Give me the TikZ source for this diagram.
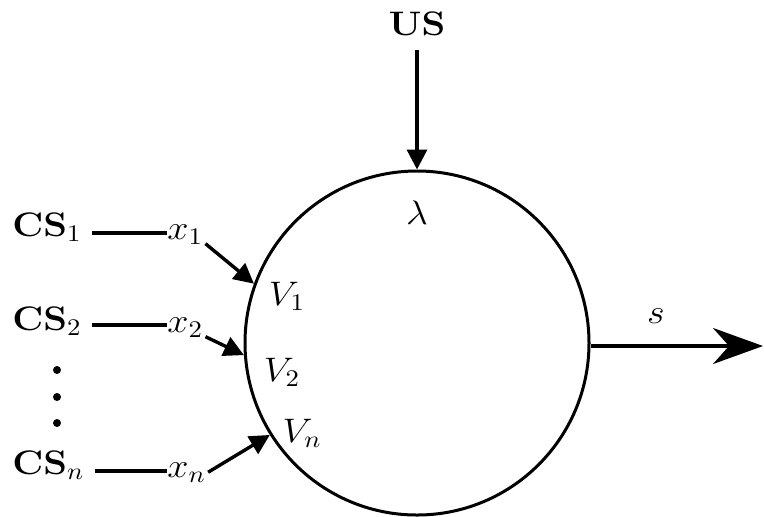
\RequirePackage{fix-cm}
\documentclass[tikz,border=0pt]{standalone}
\usetikzlibrary{arrows.meta}
\newcommand\wtxt[1]{\scalebox{1.12}[1]{#1}}
\begin{document}
\begin{tikzpicture}[x=0.5pt,y=-0.5pt,
  lbl/.style={inner sep=1pt,font=\fontsize{17}{20}\selectfont},
  wire/.style={line width=1.7pt},
  arr/.style={line width=1.7pt,-{Triangle[length=10pt,width=10pt]}},
  bigarr/.style={line width=1.7pt,-{Stealth[length=25pt,width=18pt,inset=8pt]}},
  dotnode/.style={circle,fill,inner sep=0pt,minimum size=4pt},
  cell/.style={circle,draw,line width=1.5pt,inner sep=0pt,minimum size=172pt}]
\useasboundingbox (0,0) rectangle (764,516);
\node[cell] (c) at (417,343) {};
% unconditioned stimulus
\node[lbl] (us) at (417,24) {\wtxt{$\mathbf{US}$}};
\draw[arr] ([yshift=-6pt]us.south) -- (c.north);
\node[lbl] (lam) at (417,213) {\wtxt{$\lambda$}};
% conditioned stimuli
\node[lbl,anchor=base west] (cs1) at (10,236) {\wtxt{$\mathbf{CS}_1$}};
\node[lbl,anchor=base west] (x1) at (165,239) {\wtxt{$x_1$}};
\node[lbl,anchor=base west] (cs2) at (10,330) {\wtxt{$\mathbf{CS}_2$}};
\node[lbl,anchor=base west] (x2) at (165,332) {\wtxt{$x_2$}};
\node[lbl,anchor=base west] (csn) at (10,474) {\wtxt{$\mathbf{CS}_n$}};
\node[lbl,anchor=base west] (xn) at (165,477) {\wtxt{$x_n$}};
\node[dotnode] (d1) at (57,370) {};
\node[dotnode] (d2) at (57,397) {};
\node[dotnode] (d3) at (57,423) {};
\draw[wire] ([xshift=4pt]cs1.base east |- 0,233) -- ([xshift=1pt]x1.base west |- 0,233);
\draw[wire] ([xshift=4pt]cs2.base east |- 0,325) -- ([xshift=1pt]x2.base west |- 0,325);
\draw[wire] ([xshift=4pt]csn.base east |- 0,471) -- ([xshift=1pt]xn.base west |- 0,471);
\draw[arr] (x1.-25) -- (c.160.7);
\draw[arr] (x2.-25) -- (c.184.7);
\draw[arr] (xn.east) -- (c.212.4);
\node[lbl] (v1) at (287,296) {\wtxt{$V_1$}};
\node[lbl] (v2) at (282,372) {\wtxt{$V_2$}};
\node[lbl] (vn) at (302,433) {\wtxt{$V_n$}};
% output
\coordinate (out) at (763,346);
\draw[bigarr] (c.east |- out) -- (out);
\node[lbl] (s) at (656,316) {\wtxt{$s$}};
\end{tikzpicture}
\end{document}
